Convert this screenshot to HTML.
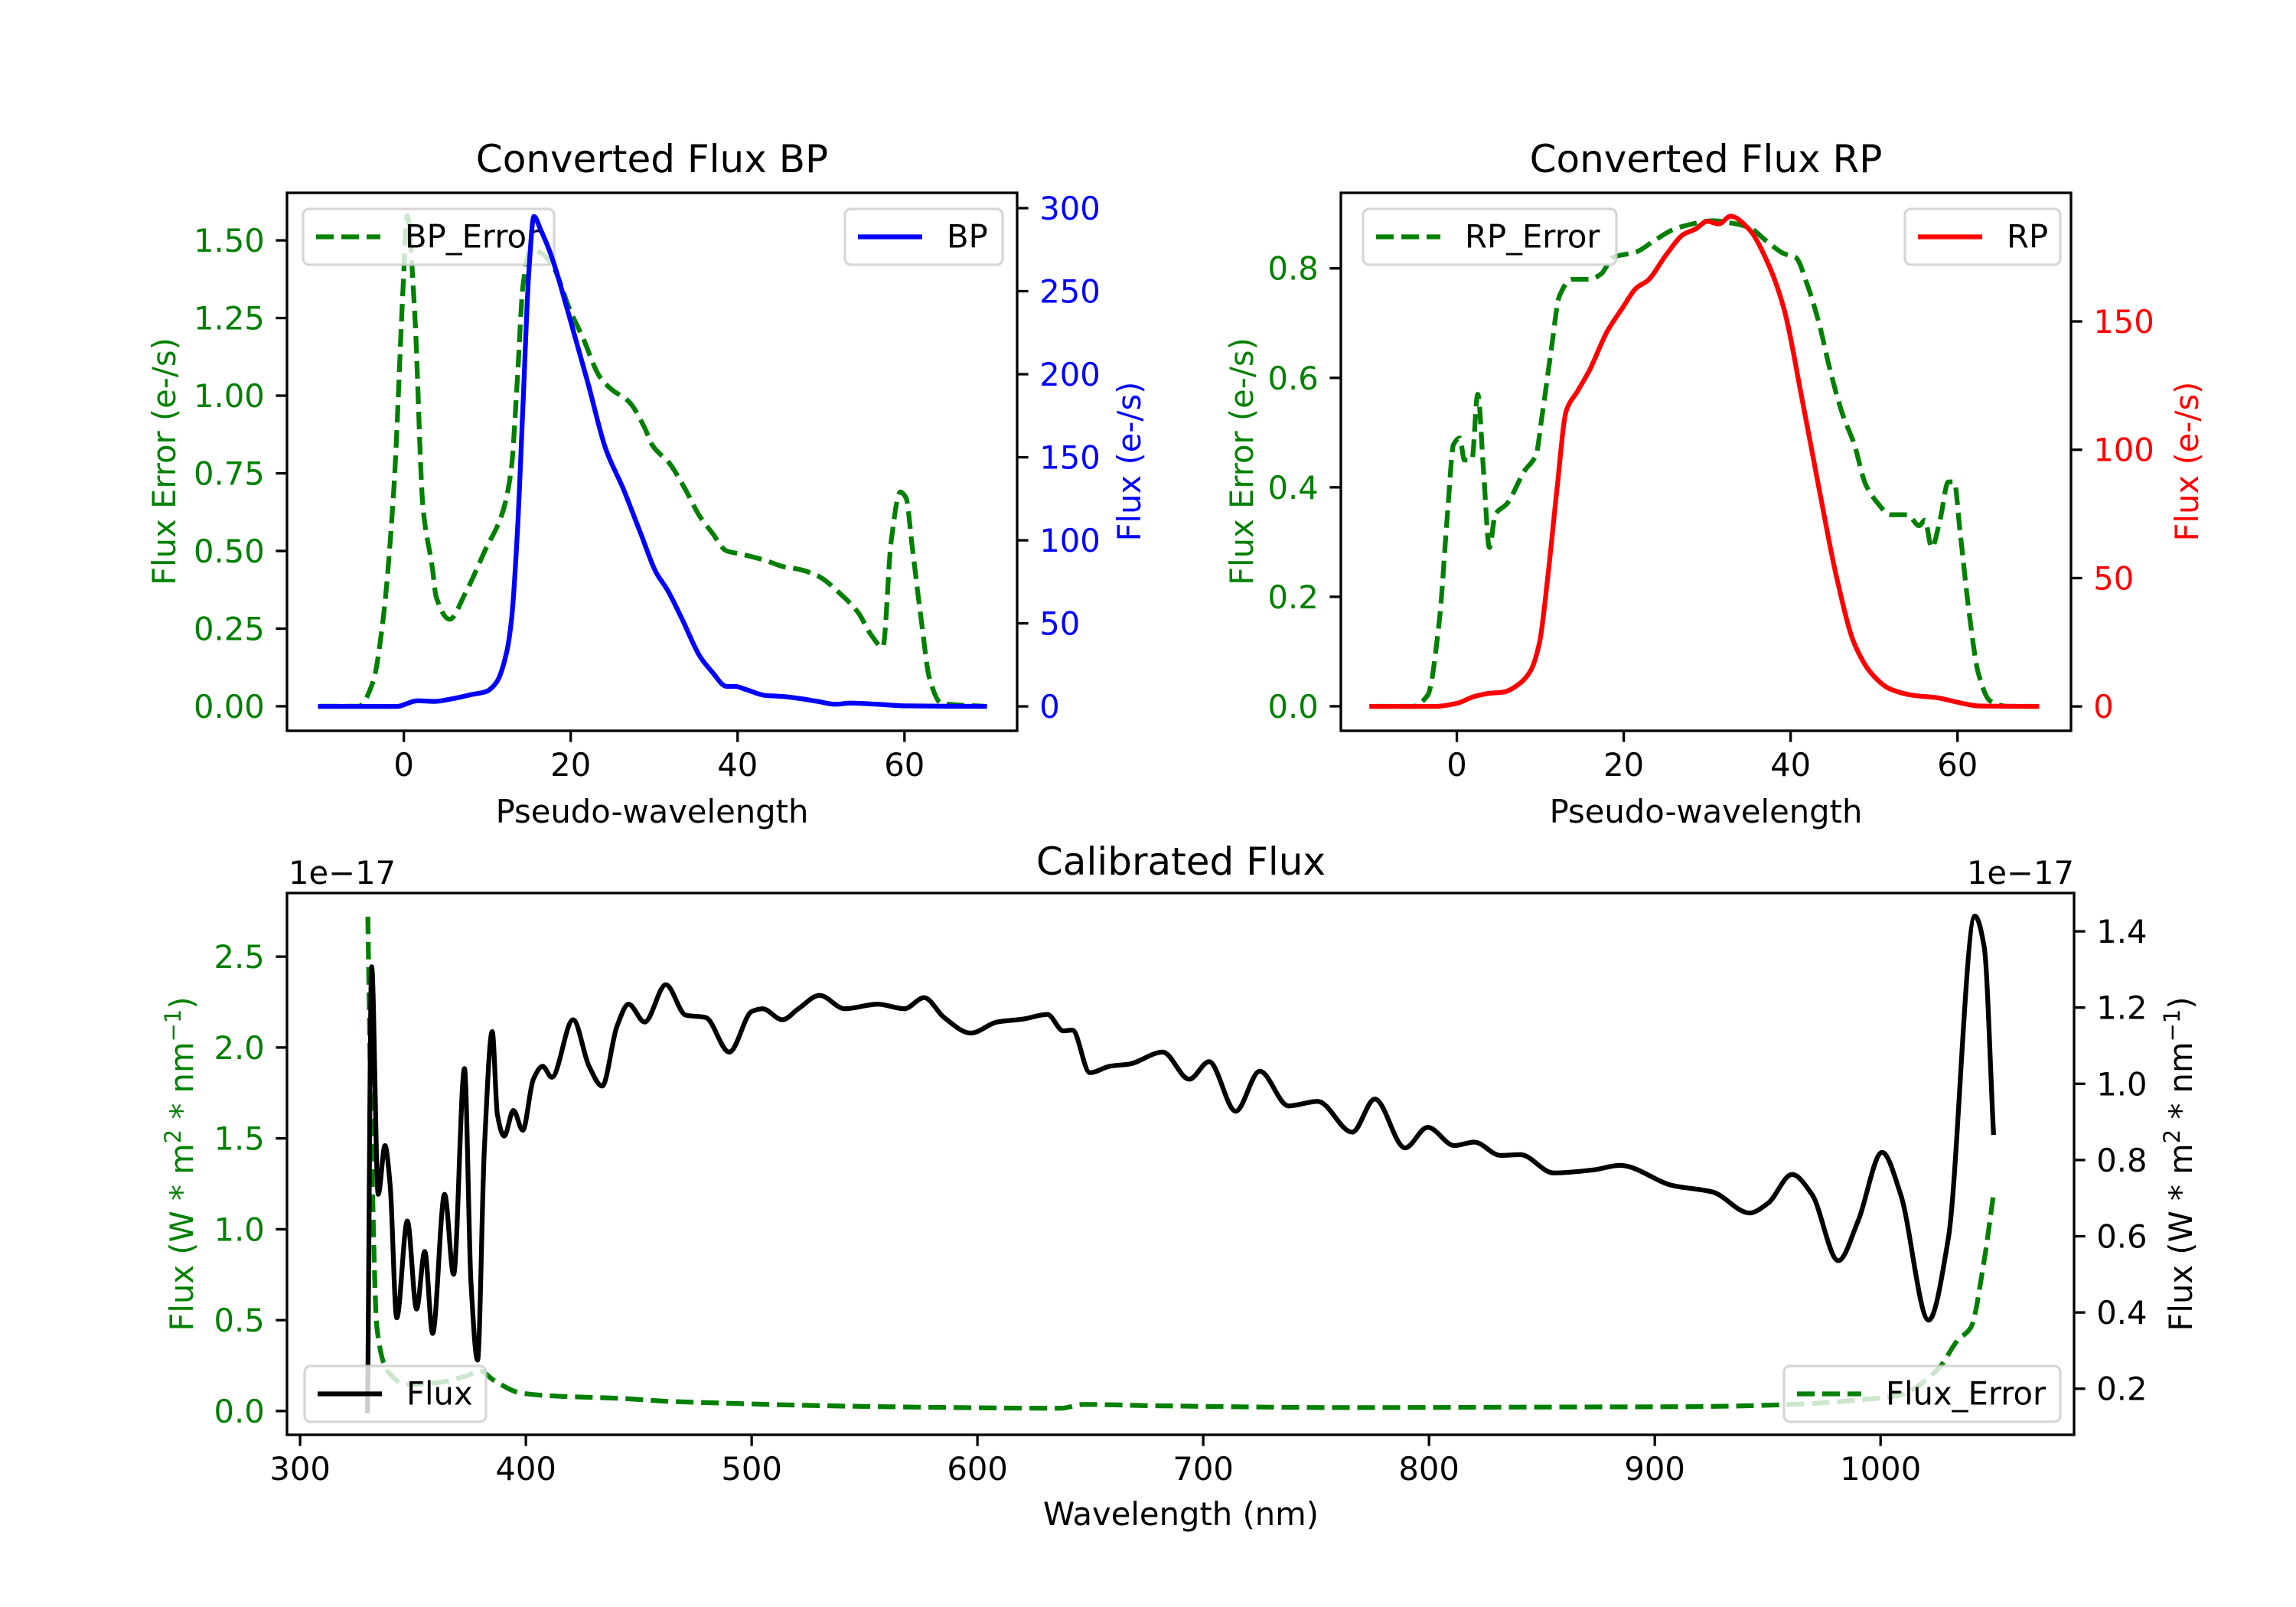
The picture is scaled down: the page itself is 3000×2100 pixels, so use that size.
<!DOCTYPE html>
<html><head><meta charset="utf-8"><style>
html,body{margin:0;padding:0;background:#fff;}
svg{display:block;font-family:"DejaVu Sans","Liberation Sans",sans-serif;}
</style></head><body>
<svg id="fig" width="3000" height="2100" viewBox="0 0 3000 2100" xmlns="http://www.w3.org/2000/svg">
<rect x="0" y="0" width="3000" height="2100" fill="#fff"/>
</svg>
<script>
// ---------- data ----------
const bpX   = [-10,-0.8,1.6,3.7,5.9,8,9.9,11.1,12.3,12.9,13.6,14.3,15,15.6,16.4,17.7,19.6,22.1,24.2,26.3,28.4,30.2,31.6,33.4,35.5,36.9,38.7,39.7,41.1,43.3,45.4,47.5,49.6,51.7,53.5,56.7,60.2,69.6];
const bpY   = [0,0,3.4,3,4.7,7,9,14.5,32,52,104,184,263,295,287,271,239,194,155,131,104,81,70,52,30,21,12,12,10,6.6,6,4.7,3,1.3,2,1.3,0.3,0];
const bpErrX = [-10,-5.4,-3.7,-2.5,-1.2,-0.1,0.4,1.3,2.3,3.4,3.9,5.5,7.3,9.7,11.9,12.9,13.6,14.3,15.2,16.4,17.8,20,21.4,23.5,24.9,27,28.8,29.8,31.9,33.7,35.5,36.9,38.7,40.4,43.3,45.4,47.5,49.6,52.4,54.5,56,57.4,58.4,59.5,60.2,60.9,62,63,64.4,69.6];
const bpErrY = [0,0,0.078,0.276,0.70,1.34,1.58,1.27,0.64,0.45,0.35,0.28,0.36,0.50,0.63,0.77,1.05,1.36,1.47,1.46,1.42,1.27,1.19,1.06,1.02,0.98,0.90,0.84,0.78,0.70,0.61,0.56,0.50,0.49,0.47,0.45,0.44,0.42,0.36,0.30,0.23,0.19,0.53,0.69,0.67,0.52,0.28,0.09,0.01,0];
const rpX   = [-10.2,-2.5,0,2.1,3.9,5.6,7.4,8.8,9.9,10.9,12,13.1,14.5,15.9,18,19.8,21.5,22.9,25.1,27.2,28.6,30,31.4,32.8,35,37.1,39.2,41.3,43.4,45.5,47.6,49.7,51.9,54.7,57.5,60.3,62.5,69.5];
const rpY   = [0,0,1.2,3.9,5.1,5.6,8.6,13.7,24.8,50.5,84.7,115,123,131,146,155,163,166,176,184,186,189,188,191,186,174,155,121,85,50.5,24.8,12.8,6.8,4.3,3.4,1.4,0.2,0];
const rpErrX = [-10,-5.3,-3.5,-2.1,-1.1,-0.4,0.35,0.9,1.8,2.5,3.2,3.9,4.6,6,8.1,9.5,10.2,11.3,12.3,13.8,15.9,17.3,18.7,21.5,23.6,25.8,27.9,30.7,32.8,35,37.1,39.2,40.6,42,43.4,44.8,46.3,47.6,49,50.5,51.9,54,55.4,56.1,56.9,57.9,58.9,59.6,60.3,61.4,62.5,63.9,66,69.5];
const rpErrY = [0,0,0.02,0.157,0.357,0.478,0.49,0.45,0.45,0.57,0.43,0.29,0.35,0.37,0.43,0.46,0.53,0.65,0.75,0.78,0.78,0.79,0.82,0.83,0.85,0.87,0.88,0.887,0.883,0.875,0.85,0.827,0.82,0.77,0.70,0.61,0.53,0.48,0.405,0.37,0.35,0.35,0.33,0.34,0.29,0.34,0.41,0.41,0.32,0.17,0.06,0.01,0,0];
const fluxX = [329.9,331.7,334.6,337.6,339.9,342.8,347.5,351.6,355.2,358.7,364,368,372.8,375.7,378.6,381.6,385.1,387.4,390.4,394.5,398.6,403.3,407.4,411.5,420.9,428,433.8,440.3,445.5,452.6,462,470.8,479.6,490.1,500.1,504.8,513.6,520.7,530.1,541.2,555.9,567.6,576.4,585.2,597,608.7,620.4,631,638,642.1,649.8,658.6,667.4,682.1,693.8,702.6,714.4,725,737.8,750.7,766,776,789.4,799.4,811.2,820,831.7,840.5,855.2,872.8,884.5,908,925.6,942,950.2,960.8,969.6,981.3,990.1,1000.7,1008.9,1021.3,1030,1041.8,1045.9,1050];
const fluxY = [0.142,1.307,0.71,0.838,0.733,0.386,0.64,0.409,0.56,0.345,0.71,0.50,1.04,0.478,0.275,0.826,1.137,0.919,0.863,0.93,0.878,1.012,1.046,1.017,1.168,1.046,0.994,1.15,1.209,1.162,1.26,1.18,1.174,1.083,1.19,1.197,1.168,1.197,1.232,1.197,1.209,1.197,1.226,1.174,1.133,1.162,1.17,1.182,1.139,1.141,1.029,1.046,1.052,1.083,1.012,1.058,0.928,1.033,0.942,0.954,0.873,0.96,0.832,0.886,0.838,0.847,0.812,0.814,0.766,0.774,0.786,0.733,0.716,0.661,0.687,0.762,0.710,0.536,0.641,0.820,0.71,0.38,0.594,1.44,1.359,0.872];
const errX  = [330,331.7,334,338.7,347.5,362.2,374,379.8,385.7,397.4,409.2,444.4,462,485.4,532.4,591.1,636.9,646.8,679,767,855.2,913.8,960.8,990.1,1007.7,1025.4,1034.2,1040,1045.9,1050];
const errY  = [2.72,1.43,0.46,0.22,0.146,0.158,0.195,0.22,0.17,0.10,0.085,0.068,0.054,0.044,0.029,0.019,0.015,0.036,0.029,0.019,0.022,0.024,0.036,0.061,0.085,0.23,0.39,0.46,0.83,1.19];
const bpXTicks = [0,20,40,60];
const bpLTicks = [0,0.25,0.5,0.75,1.0,1.25,1.5];
const bpLLabels = ["0.00","0.25","0.50","0.75","1.00","1.25","1.50"];
const bpRTicks = [0,50,100,150,200,250,300];
const rpLTicks = [0,0.2,0.4,0.6,0.8];
const rpLLabels = ["0.0","0.2","0.4","0.6","0.8"];
const rpRTicks = [0,50,100,150];
const calXTicks = [300,400,500,600,700,800,900,1000];
const calLTicks = [0,0.5,1.0,1.5,2.0,2.5];
const calLLabels = ["0.0","0.5","1.0","1.5","2.0","2.5"];
const calRTicks = [0.2,0.4,0.6,0.8,1.0,1.2,1.4];
const calRLabels = ["0.2","0.4","0.6","0.8","1.0","1.2","1.4"];

// ---------- helpers ----------
const NS="http://www.w3.org/2000/svg";
const fig=document.getElementById('fig');
function mk(tag,attrs,parent){const e=document.createElementNS(NS,tag);for(const k in attrs)e.setAttribute(k,attrs[k]);(parent||fig).appendChild(e);return e;}
function lin(d0,d1,r0,r1){return v=>r0+(v-d0)*(r1-r0)/(d1-d0);}
const FS=41.7, TICK=14.6, LW=6.25, DASH="23 10";

function makeAxes(box,xd,yld,yrd){
  return {box, x:lin(xd[0],xd[1],box.l,box.r), yl:lin(yld[0],yld[1],box.b,box.t), yr:lin(yrd[0],yrd[1],box.b,box.t)};
}
// monotone cubic path (Fritsch-Carlson)
function monoPath(P){
  const n=P.length; if(n<2)return '';
  const dx=[],dy=[],m=[],t=new Array(n);
  for(let i=0;i<n-1;i++){dx[i]=P[i+1][0]-P[i][0];dy[i]=P[i+1][1]-P[i][1];m[i]=dx[i]?dy[i]/dx[i]:0;}
  t[0]=m[0];t[n-1]=m[n-2];
  for(let i=1;i<n-1;i++){ if(m[i-1]*m[i]<=0)t[i]=0; else {const w1=2*dx[i]+dx[i-1],w2=dx[i]+2*dx[i-1];t[i]=(w1+w2)/(w1/m[i-1]+w2/m[i]);} }
  let d='M'+P[0][0].toFixed(1)+','+P[0][1].toFixed(1);
  for(let i=0;i<n-1;i++){const h=dx[i]/3;
    d+='C'+(P[i][0]+h).toFixed(1)+','+(P[i][1]+t[i]*h).toFixed(1)+' '+(P[i+1][0]-h).toFixed(1)+','+(P[i+1][1]-t[i+1]*h).toFixed(1)+' '+P[i+1][0].toFixed(1)+','+P[i+1][1].toFixed(1);}
  return d;
}
function drawLine(ax,xs,ys,yfn,color,dashed,name){
  const P=xs.map((x,i)=>[ax.x(x),yfn(ys[i])]);
  const d=monoPath(P);
  const p=mk('path',{d,fill:'none',stroke:color,'stroke-width':LW,'stroke-linejoin':'round','stroke-linecap':dashed?'butt':'square','clip-path':'url(#'+ax.clip+')'});
  if(dashed)p.setAttribute('stroke-dasharray',DASH);
  
  
}
function frame(ax,name){
  const b=ax.box;
  const r=mk('rect',{x:b.l,y:b.t,width:b.r-b.l,height:b.b-b.t,fill:'none',stroke:'#000','stroke-width':3.3});
  
  
}
function clip(ax,id){
  const b=ax.box;const defs=mk('defs',{});const c=mk('clipPath',{id},defs);
  mk('rect',{x:b.l,y:b.t,width:b.r-b.l,height:b.b-b.t},c);ax.clip=id;
}
function xTicks(ax,ticks,labels,name){
  const g=mk('g',{});
  
  
  ticks.forEach((v,i)=>{const X=ax.x(v);
    mk('line',{x1:X,x2:X,y1:ax.box.b,y2:ax.box.b+TICK,stroke:'#000','stroke-width':3.3},g);
    const t=mk('text',{x:X,y:ax.box.b+TICK+14.6+30,'text-anchor':'middle','font-size':FS,fill:'#000'},g);
    t.textContent=labels?labels[i]:String(v);});
}
function yTicks(ax,side,ticks,labels,color,name){
  const g=mk('g',{});
  
  
  const yfn=side==='l'?ax.yl:ax.yr;
  ticks.forEach((v,i)=>{const Y=yfn(v);
    const X0=side==='l'?ax.box.l:ax.box.r, X1=side==='l'?X0-TICK:X0+TICK;
    mk('line',{x1:X0,x2:X1,y1:Y,y2:Y,stroke:'#000','stroke-width':3.3},g);
    const t=mk('text',{x:side==='l'?X1-14.6:X1+14.6,y:Y+15,'text-anchor':side==='l'?'end':'start','font-size':FS,fill:color},g);
    t.textContent=labels?labels[i]:String(v);});
}
function text(x,y,s,opts,name){
  const t=mk('text',Object.assign({x,y,'font-size':FS,fill:'#000'},opts||{}));
  t.textContent=s;
  
  
  return t;
}
function legend(x0,x1,y0,y1,label,color,dashed,name){
  const g=mk('g',{});
  
  
  mk('rect',{x:x0,y:y0,width:x1-x0,height:y1-y0,rx:8,ry:8,fill:'rgba(255,255,255,0.8)',stroke:'rgba(204,204,204,0.8)','stroke-width':3.3},g);
  const cy=(y0+y1)/2;
  const l=mk('line',{x1:x0+17,x2:x0+101,y1:cy,y2:cy,stroke:color,'stroke-width':LW},g);
  if(dashed)l.setAttribute('stroke-dasharray',DASH);
  const t=mk('text',{x:x0+133,y:cy+14,'font-size':FS,fill:'#000'},g);t.textContent=label;
}

// ---------- BP panel ----------
const bp=makeAxes({l:375,r:1329,t:252,b:955},[-14,73.5],[-0.079,1.653],[-14.7,309.2]);
clip(bp,'cbp');
drawLine(bp,bpErrX,bpErrY,bp.yl,'#008000',true,'bp-error-line');
legend(396,724,273,346,'BP_Error','#008000',true,'bp-error-legend');
drawLine(bp,bpX,bpY,bp.yr,'#0000ff',false,'bp-flux-line');
legend(1104,1310,273,346,'BP','#0000ff',false,'bp-legend');
frame(bp,'bp-axes-frame');
xTicks(bp,bpXTicks,null,'bp-x-ticks');
yTicks(bp,'l',bpLTicks,bpLLabels,'#008000','bp-left-y-ticks');
yTicks(bp,'r',bpRTicks,null,'#0000ff','bp-right-y-ticks');
text(852,225,'Converted Flux BP',{'text-anchor':'middle','font-size':50},'bp-title');
text(852,1075,'Pseudo-wavelength',{'text-anchor':'middle'},'bp-x-axis-title');
text(0,0,'Flux Error (e-/s)',{'text-anchor':'middle',fill:'#008000',transform:'translate(229,603) rotate(-90)'},'bp-left-y-axis-title');
text(0,0,'Flux (e-/s)',{'text-anchor':'middle',fill:'#0000ff',transform:'translate(1490,603) rotate(-90)'},'bp-right-y-axis-title');

// ---------- RP panel ----------
const rp=makeAxes({l:1752,r:2706,t:252,b:955},[-13.9,73.6],[-0.0448,0.938],[-9.5,200.1]);
clip(rp,'crp');
drawLine(rp,rpErrX,rpErrY,rp.yl,'#008000',true,'rp-error-line');
legend(1781,2112,273,346,'RP_Error','#008000',true,'rp-error-legend');
drawLine(rp,rpX,rpY,rp.yr,'#ff0000',false,'rp-flux-line');
legend(2489,2692,273,346,'RP','#ff0000',false,'rp-legend');
frame(rp,'rp-axes-frame');
xTicks(rp,bpXTicks,null,'rp-x-ticks');
yTicks(rp,'l',rpLTicks,rpLLabels,'#008000','rp-left-y-ticks');
yTicks(rp,'r',rpRTicks,null,'#ff0000','rp-right-y-ticks');
text(2229,225,'Converted Flux RP',{'text-anchor':'middle','font-size':50},'rp-title');
text(2229,1075,'Pseudo-wavelength',{'text-anchor':'middle'},'rp-x-axis-title');
text(0,0,'Flux Error (e-/s)',{'text-anchor':'middle',fill:'#008000',transform:'translate(1637,603) rotate(-90)'},'rp-left-y-axis-title');
text(0,0,'Flux (e-/s)',{'text-anchor':'middle',fill:'#ff0000',transform:'translate(2872,603) rotate(-90)'},'rp-right-y-axis-title');

// ---------- Calibrated panel ----------
const cal=makeAxes({l:375,r:2710,t:1167,b:1875},[294.2,1085.7],[-0.131,2.85],[0.079,1.5005]);
clip(cal,'ccal');
drawLine(cal,errX,errY,cal.yl,'#008000',true,'flux-error-line');
drawLine(cal,fluxX,fluxY,cal.yr,'#000000',false,'flux-line');
legend(398,635,1785,1858,'Flux','#000000',false,'flux-legend');
legend(2331,2692,1785,1858,'Flux_Error','#008000',true,'flux-error-legend');
frame(cal,'cal-axes-frame');
xTicks(cal,calXTicks,null,'cal-x-ticks');
yTicks(cal,'l',calLTicks,calLLabels,'#008000','cal-left-y-ticks');
yTicks(cal,'r',calRTicks,calRLabels,'#000000','cal-right-y-ticks');
text(1543,1143,'Calibrated Flux',{'text-anchor':'middle','font-size':50},'cal-title');
text(377,1155,'1e\u221217',{},'cal-left-offset-label');
text(2710,1155,'1e\u221217',{'text-anchor':'end'},'cal-right-offset-label');
text(1543,1993,'Wavelength (nm)',{'text-anchor':'middle'},'cal-x-axis-title');
function unitLabel(cx,cy,color,name){
  const t=mk('text',{x:0,y:0,'text-anchor':'middle','font-size':FS,fill:color,transform:'translate('+cx+','+cy+') rotate(-90)'});
  
  
  t.innerHTML='Flux (W * m<tspan dy="-16" font-size="29">2</tspan><tspan dy="16"> * nm</tspan><tspan dy="-16" font-size="29">\u22121</tspan><tspan dy="16">)</tspan>';
}
unitLabel(252,1521,'#008000','cal-left-y-axis-title');
unitLabel(2864,1521,'#000000','cal-right-y-axis-title');
</script>
</body></html>
